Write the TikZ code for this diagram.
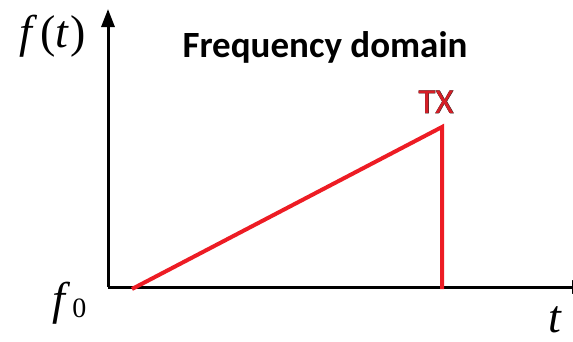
\documentclass[tikz,border=0pt]{standalone}
\usepackage{fontspec}
\setmainfont{Liberation Serif}
\newfontfamily\calib{Carlito}
\newfontfamily\calibout{Carlito}[FakeBold=1.6]
\usetikzlibrary{arrows.meta}
\definecolor{pptred}{RGB}{237,28,36}
\definecolor{txred}{RGB}{215,30,38}
\definecolor{txedge}{RGB}{70,40,40}
\tikzset{
  axis/.style={line width=3pt, -{Triangle[length=18pt,width=13pt]}},
  sig/.style={line width=4pt, pptred},
  mathlbl/.style={inner sep=0pt, font=\fontsize{46}{46}\selectfont},
}
\begin{document}
\begin{tikzpicture}[x=1pt,y=-1pt]
\useasboundingbox (0,0) rectangle (573,341);
\coordinate (O) at (108,287);
\coordinate (ytip) at (108,9);
\coordinate (xtip) at (590,287);
\draw[axis] (O) -- (ytip);
\draw[axis] (O) -- (xtip);
\coordinate (s0) at (132,289);
\coordinate (s1) at (442,127);
\coordinate (s2) at (442,289);
\draw[sig, line join=miter] (s0) -- (s1) -- (s2);
\node[mathlbl, anchor=base west] (ft) at (19,47) {\textit{f}\kern3pt(\textit{t}\kern1.5pt)};
\node[mathlbl, anchor=base west] (f0) at (52,314) {\textit{f}\kern2pt{\fontsize{28}{28}\selectfont\raisebox{-3pt}{0}}};
\node[mathlbl, anchor=base west] (t) at (548,332) {\textit{t}};
\node[inner sep=0pt, font=\calib\bfseries\fontsize{37}{37}\selectfont, anchor=base] (title) at (325,57) {Frequency domain};
\node[inner sep=0pt, font=\calibout\fontsize{35}{35}\selectfont, text=txedge, anchor=base] (txo) at (436,113) {TX};
\node[inner sep=0pt, font=\calib\fontsize{35}{35}\selectfont, text=txred, anchor=base] (tx) at (436,113) {TX};
\end{tikzpicture}
\end{document}
